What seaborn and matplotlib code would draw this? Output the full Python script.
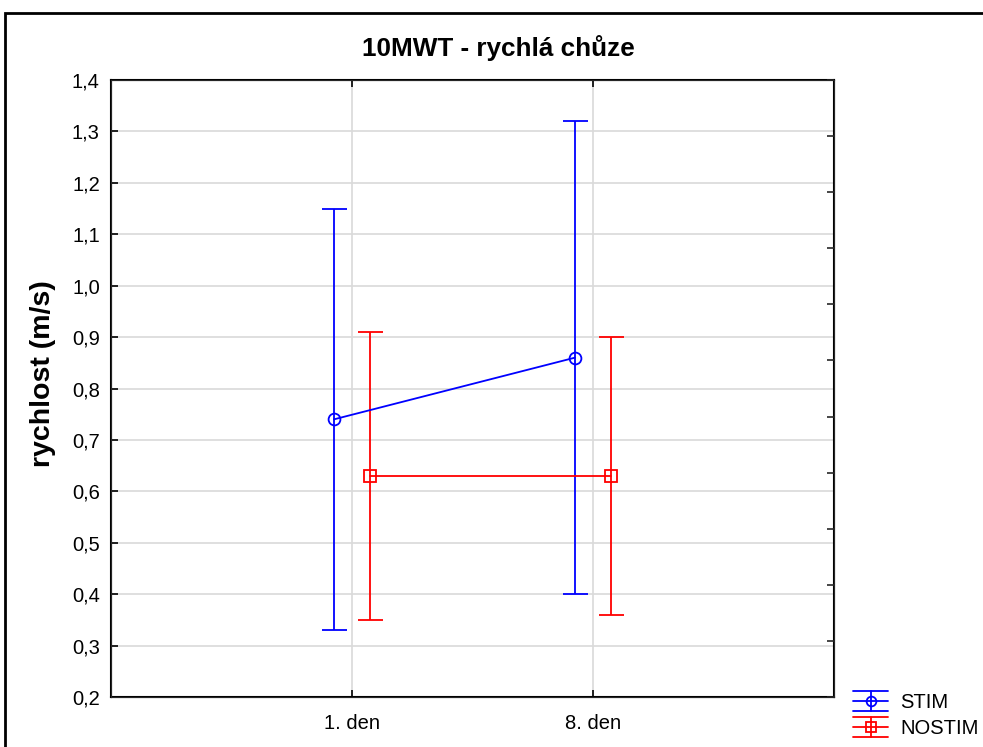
import numpy as np
import pandas as pd
import matplotlib
matplotlib.use("Agg")
import matplotlib.pyplot as plt
from matplotlib.patches import Rectangle
from matplotlib.lines import Line2D
from matplotlib.legend_handler import HandlerBase
from matplotlib.ticker import FuncFormatter
import seaborn as sns

# --- dados ---
days = ["1. den", "8. den"]
groups = ["STIM", "NOSTIM"]
stim_mean = [0.74, 0.86]
stim_low = [0.33, 0.40]
stim_high = [1.15, 1.32]
nostim_mean = [0.63, 0.63]
nostim_low = [0.35, 0.36]
nostim_high = [0.91, 0.90]

colors = {"STIM": "#0000ff", "NOSTIM": "#ff0000"}
markers = {"STIM": "o", "NOSTIM": "s"}
offsets = {"STIM": -0.075, "NOSTIM": 0.075}

rows = []
for g, m, lo, hi in [("STIM", stim_mean, stim_low, stim_high),
                     ("NOSTIM", nostim_mean, nostim_low, nostim_high)]:
    for i, d in enumerate(days):
        rows.append({"group": g, "day": d, "pos": i + 1 + offsets[g],
                     "mean": m[i], "low": lo[i], "high": hi[i]})
df = pd.DataFrame(rows)


# simbolo da legenda: linha com marcador + barra de erro com tampas largas
class ErrHandler(HandlerBase):
    def create_artists(self, legend, orig, xd, yd, w, h, fontsize, trans):
        c = orig.get_color()
        cy = h / 2 - yd
        x0, x1 = -xd, w - xd
        dy = 0.72 * h
        arts = []
        for yy in (cy - dy, cy, cy + dy):
            arts.append(Line2D([x0, x1], [yy, yy], color=c, lw=1.3))
        arts.append(Line2D([(x0 + x1) / 2] * 2, [cy - dy, cy + dy], color=c, lw=1.3))
        arts.append(Line2D([(x0 + x1) / 2], [cy], marker=orig.get_marker(),
                           ms=7, mfc="none", mec=c, mew=1.3, ls="none"))
        for a in arts:
            a.set_transform(trans)
        return arts


sns.set_style("white")
plt.rcParams["font.family"] = ["Liberation Sans", "DejaVu Sans"]
plt.rcParams["text.color"] = "black"

fig = plt.figure(figsize=(9.83, 7.47), dpi=100)
ax = fig.add_axes([0.1129, 0.0669, 0.7355, 0.826])

# linhas + marcadores
sns.lineplot(data=df, x="pos", y="mean", hue="group", style="group",
             markers=markers, dashes=False, palette=colors, ax=ax,
             markersize=8.5, markeredgewidth=1.3,
             linewidth=1.3, legend=False, zorder=4)
for line in ax.lines:
    line.set_markerfacecolor("none")
    line.set_markeredgecolor(line.get_color())

# barras de erro
for g in groups:
    sub = df[df["group"] == g]
    ax.errorbar(sub["pos"], sub["mean"],
                yerr=[sub["mean"] - sub["low"], sub["high"] - sub["mean"]],
                fmt="none", ecolor=colors[g], elinewidth=1.3, capsize=9,
                capthick=1.3, zorder=3)

ax.set_xlim(0, 3)
ax.set_ylim(0.2, 1.4)
ax.set_xticks([1, 2])
ax.set_xticklabels(days)
ax.set_yticks(np.round(np.arange(0.2, 1.401, 0.1), 1))
ax.yaxis.set_major_formatter(FuncFormatter(lambda v, p: f"{v:.1f}".replace(".", ",")))
ax.grid(True, color="#d9d9d9", linewidth=1.2, zorder=0)
ax.set_axisbelow(True)
ax.tick_params(axis="both", direction="in", length=5, width=1.2,
               labelsize=14.5, colors="black", bottom=True, left=True, top=True)
ax.tick_params(axis="x", pad=12)
ax.tick_params(axis="y", pad=8)
for s in ax.spines.values():
    s.set_color("black")
    s.set_linewidth(1.5)
ax.set_xlabel("")
ax.set_ylabel("")

# eixo direito com marcas próprias
ax2 = ax.twinx()
ax2.set_ylim(0.2, 1.4)
ax2.set_yticks(0.2 + np.arange(12) * 1.2 / 11)
ax2.tick_params(axis="y", direction="in", length=5, width=1.2, labelright=False)
ax2.grid(False)

fig.text(0.507, 0.936, "10MWT - rychlá chůze",
         ha="center", va="center", fontsize=18.8, fontweight="bold")
fig.text(0.044, 0.50, "rychlost (m/s)", rotation=90, ha="center",
         va="center", fontsize=20.5, fontweight="bold")

handles = [Line2D([], [], color=colors[g], marker=markers[g]) for g in groups]
fig.legend(handles=handles, labels=groups, loc="upper left",
           bbox_to_anchor=(0.8677, 0.0723), frameon=False, fontsize=14.5,
           handlelength=1.75, handletextpad=0.6, labelspacing=0.35,
           borderpad=0, borderaxespad=0,
           handler_map={Line2D: ErrHandler()})

# moldura externa
fig.patches.append(Rectangle((5 / 983, -0.1), 2.0, 1 - 13 / 747 + 0.1,
                             transform=fig.transFigure, fill=False,
                             edgecolor="black", linewidth=2))

fig.savefig("out.png", dpi=100)
